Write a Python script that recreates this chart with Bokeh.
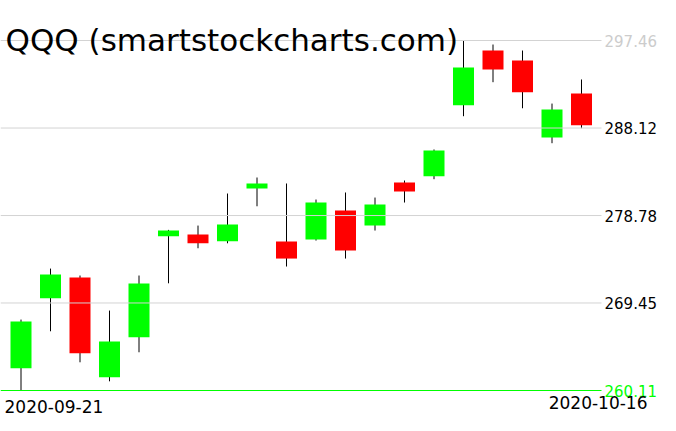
from bokeh.plotting import figure
from bokeh.models import ColumnDataSource, Range1d
from bokeh.core.properties import value
from bokeh.embed import file_html
from bokeh.resources import INLINE

# ---- data ----
dates = ["2020-09-21", "2020-09-22", "2020-09-23", "2020-09-24", "2020-09-25",
         "2020-09-28", "2020-09-29", "2020-09-30", "2020-10-01", "2020-10-02",
         "2020-10-05", "2020-10-06", "2020-10-07", "2020-10-08", "2020-10-09",
         "2020-10-12", "2020-10-13", "2020-10-14", "2020-10-15", "2020-10-16"]
opens = [262.48, 269.95, 272.16, 261.52, 265.79, 276.57, 276.75, 276.04, 281.66, 276.01,
         276.22, 279.31, 277.71, 282.30, 282.98, 290.55, 296.39, 295.33, 287.11, 291.80]
highs = [267.68, 273.12, 272.38, 268.64, 272.38, 277.25, 277.71, 281.13, 282.84, 282.20,
         280.49, 281.24, 280.70, 282.52, 285.83, 297.46, 297.03, 296.39, 290.73, 293.30]
lows = [260.11, 266.43, 263.12, 261.09, 264.19, 271.55, 275.29, 275.82, 279.77, 273.34,
        276.11, 274.19, 277.18, 280.17, 282.66, 289.38, 293.01, 290.23, 286.50, 288.10]
closes = [267.47, 272.48, 264.08, 265.33, 271.52, 277.18, 275.82, 277.82, 282.20, 274.19,
          280.17, 275.04, 279.95, 281.34, 285.72, 294.58, 294.36, 291.94, 290.09, 288.42]
yticks = [297.46, 288.12, 278.78, 269.45, 260.11]
tick_colors = ["#cccccc", "#000000", "#000000", "#000000", "#00ff00"]
grid_colors = ["#d3d3d3", "#d3d3d3", "#d3d3d3", "#d3d3d3", "#00ff00"]
title_text = "QQQ (smartstockcharts.com)"

# ---- layout (page pixel positions) ----
W, H = 676, 431
OFF = 0
TOP_PX, BOT_PX = 40, 390
FIRST_PX, SLOT_PX, BODY_PX = 20.5, 29.5, 21

ymax, ymin = yticks[0], yticks[-1]
k = (ymax - ymin) / (BOT_PX - TOP_PX)


def vy(py):
    return ymax - (py - TOP_PX) * k


def vx(px):
    return (px - FIRST_PX) / SLOT_PX


p = figure(width=W, height=H, output_backend="svg", toolbar_location=None,
           x_axis_location=None, y_axis_location=None,
           x_range=Range1d(vx(OFF), vx(OFF + W)),
           y_range=Range1d(vy(OFF + H), vy(OFF)),
           min_border=0)
p.grid.visible = False
p.outline_line_color = None
p.background_fill_color = "white"
p.border_fill_color = "white"

idx = list(range(len(dates)))
up = [c >= o for o, c in zip(opens, closes)]
src = ColumnDataSource(dict(
    x=idx, date=dates, high=highs, low=lows,
    top=[max(o, c) for o, c in zip(opens, closes)],
    bottom=[min(o, c) for o, c in zip(opens, closes)],
    color=["#00ff00" if u else "#ff0000" for u in up],
))

# wicks
p.segment(x0="x", y0="low", x1="x", y1="high", source=src, line_color="black", line_width=1)
# bodies
p.vbar(x="x", width=BODY_PX / SLOT_PX, top="top", bottom="bottom", source=src,
       fill_color="color", line_color=None)

# gridlines on top
gsrc = ColumnDataSource(dict(y=yticks, color=grid_colors, tcolor=tick_colors,
                             label=["%.2f" % t for t in yticks]))
p.segment(x0=vx(0), x1=vx(601), y0="y", y1="y", source=gsrc,
          line_color="color", line_width=1)

# y labels
p.text(x=vx(604), y="y", text="label", source=gsrc, text_color="tcolor",
       text_font=value("DejaVu Sans"), text_font_size="15px",
       text_baseline="alphabetic", text_align="left")

# title
p.text(x=[vx(5)], y=[vy(39.5)], text=[title_text], text_color="black",
       text_font=value("DejaVu Sans"), text_font_size="31px",
       text_baseline="alphabetic", text_align="left")

# date labels (first and last)
p.text(x=[vx(4)], y=[vy(406)], text=[dates[0]], text_color="black",
       text_font=value("DejaVu Sans"), text_font_size="17px",
       text_baseline="alphabetic", text_align="left")
p.text(x=[vx(647)], y=[vy(401.5)], text=[dates[-1]], text_color="black",
       text_font=value("DejaVu Sans"), text_font_size="17px",
       text_baseline="alphabetic", text_align="right")

open("out.html", "w").write(file_html(p, INLINE))
